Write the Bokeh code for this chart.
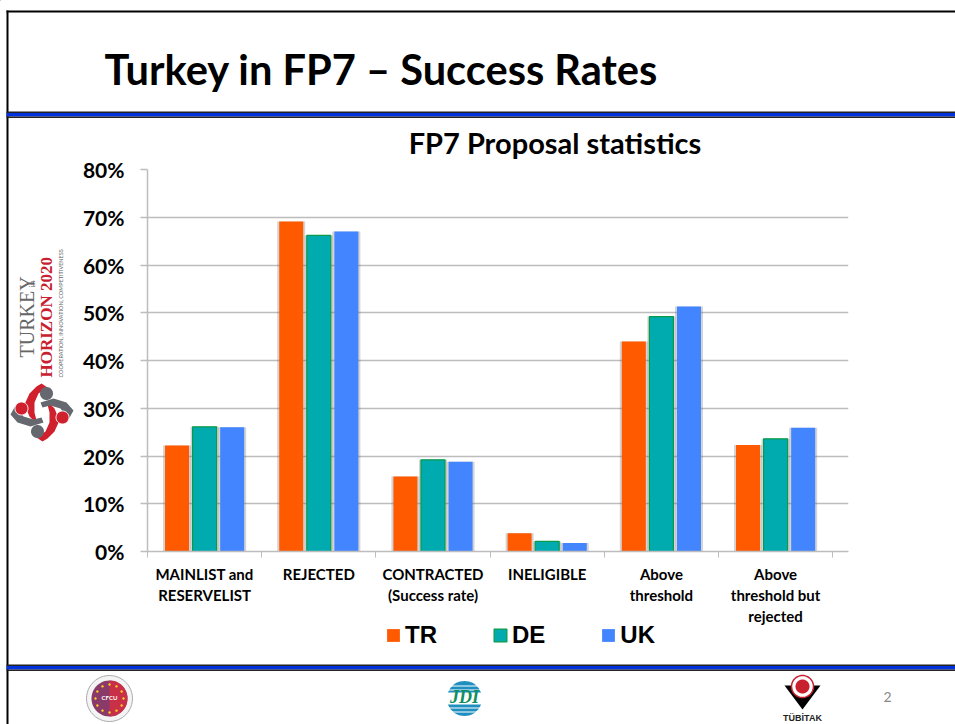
import math
from bokeh.plotting import figure
from bokeh.core.properties import value
from bokeh.models import (Legend, LegendItem, LinearAxis, FixedTicker, ColumnDataSource, Range1d, Grid)
from bokeh.embed import file_html
from bokeh.resources import INLINE

# ---------- data ----------
categories = ["MAINLIST and\nRESERVELIST", "REJECTED", "CONTRACTED\n(Success rate)",
              "INELIGIBLE", "Above\nthreshold", "Above\nthreshold but\nrejected"]
series_names = ["TR", "DE", "UK"]
tr_values = [22.2, 69.1, 15.7, 3.8, 44.0, 22.3]
de_values = [26.1, 66.2, 19.2, 2.1, 49.2, 23.6]
uk_values = [26.0, 67.0, 18.8, 1.8, 51.3, 25.9]
y_ticks = [0, 10, 20, 30, 40, 50, 60, 70, 80]
y_labels = ["0%", "10%", "20%", "30%", "40%", "50%", "60%", "70%", "80%"]

TITLE = "Turkey in FP7 – Success Rates"
CHART_TITLE = "FP7 Proposal statistics"

# ---------- layout ----------
W, H = 955, 724
PX_PER_CAT = 114.2
FL, FR, FT, FB = 147, 848, 169, 551
GRID = "#bdbdbd"
FONT = "Lato"
colors = ["#ff5a00", "#00abb0", "#4285ff"]
lines = [None, "#0a9a4a", None]
SHIFT = 0.42

# ---------- background slide: frame fills the canvas, units are pixels ----------
bg = figure(width=W, height=H, output_backend="svg", toolbar_location=None,
            x_range=Range1d(0, W), y_range=Range1d(H, 0), min_border=0,
            x_axis_type=None, y_axis_type=None)
bg.outline_line_color = None
bg.grid.visible = False

def box(l, t, r, b, color):
    bg.quad(left=[l], right=[r], top=[t], bottom=[b], fill_color=color, line_color=None)
def poly(xs, ys, color, line=None, lw=1):
    bg.patch(x=list(xs), y=list(ys), fill_color=color, line_color=line, line_width=lw)
def circle(cx, cy, r, color, line=None, lw=1):
    a = [2 * math.pi * i / 48 for i in range(48)]
    poly([cx + r * math.cos(t) for t in a], [cy + r * math.sin(t) for t in a], color, line, lw)
def text(x, y, s, size, color="black", font=FONT, style="normal", angle=0, align="left"):
    if angle:
        x -= SHIFT * size
    else:
        y -= SHIFT * size
    bg.text(x=[x], y=[y], text=[s], text_font_size=f"{size}px", text_color=color,
            text_font=value(font), text_font_style=style, angle=angle, text_align=align,
            text_baseline="alphabetic")

box(6, 10, W, 12, "black")
box(6, 10, 8, H, "black")
for y in (111, 664):
    box(6, y, W, y + 1.5, "#222222")
    box(6, y + 1.5, W, y + 5, "#0033dd")
    box(6, y + 5, W, y + 6.5, "#222222")

text(104, 86, TITLE, 41.6, style="bold")
text(554.5, 154, CHART_TITLE, 29, style="bold", align="center")

# left logo
text(35, 357, "TURKEY", 20, color="#666666", font="Liberation Serif", angle=math.pi / 2)
text(35, 287, "in", 9, color="#666666", font="Liberation Serif", angle=math.pi / 2)
text(53, 377, "HORIZON 2020", 17, color="#c8202f", font="Liberation Serif", style="bold", angle=math.pi / 2)
text(63, 377, "COOPERATION, INNOVATION, COMPETITIVENESS", 5.5, color="#666666", angle=math.pi / 2)
CX, CY = 41.5, 412
red_x = [41, 47, 38, 34, 34, 37, 29, 24, 29, 36]
red_y = [383, 387, 393, 402, 412, 424, 416, 404, 393, 386]
gray_x = [40, 53, 66, 73, 68, 60, 50, 42]
gray_y = [402, 398, 402, 410, 419, 408, 405, 407]
for xs, ys, col in ((red_x, red_y, "#d0202e"), (gray_x, gray_y, "#666870")):
    poly(xs, ys, col)
    poly([2 * CX - v for v in xs], [2 * CY - v for v in ys], col)
circle(46, 393, 6.5, "#666870")
circle(37, 431, 6.5, "#666870")
circle(21, 408, 6.5, "#d0202e", "white", 1)
circle(62, 417, 6.5, "#d0202e", "white", 1)

# CFCU logo
circle(109, 698, 23, "#f4f4f4", "#aaaaaa", 1)
circle(109, 698, 18, "#8a3a68")
poly([109 + 18 * math.cos(t / 24 * math.pi - math.pi / 2) for t in range(25)],
     [698 + 18 * math.sin(t / 24 * math.pi - math.pi / 2) for t in range(25)], "#c83048")
for k in range(12):
    a = k * math.pi / 6
    circle(109 + 14 * math.cos(a), 698 + 14 * math.sin(a), 1.2, "#ffd020")
text(109, 700, "CFCU", 6, color="white", style="bold", align="center")

# JDI logo
circle(464, 698, 17.5, "#1f8fc0")
for y in (685, 689, 707, 711):
    box(445, y, 483, y + 1, "white")
box(445, 692, 483, 704, "white")
text(464, 704, "JDI", 18, color="#109060", font="Liberation Serif", style="bold italic", align="center")

# TUBITAK logo
poly([784, 820, 802], [685, 685, 709], "black")
circle(802, 686, 11, "white", "#c8202f", 1.5)
circle(802, 686, 7, "#c8202f")
text(802, 721, "TÜBİTAK", 9, color="#222222", font="Liberation Sans", style="bold", align="center")
text(887, 702, "2", 14, color="#888888", font="Lato", align="center")

# legend
legend_items = []
for name, c, lc in zip(series_names, colors, lines):
    r = bg.vbar(x=[-100], top=[-100], bottom=[-101], width=1, fill_color=c, line_color=lc, line_width=1.2 if lc else 0)
    legend_items.append(LegendItem(label=name, renderers=[r]))
leg = Legend(items=legend_items, orientation="horizontal", location=(385, H - 649), border_line_color=None,
             background_fill_alpha=0, padding=0, margin=0, spacing=55, label_standoff=4,
             glyph_width=16, glyph_height=16, label_text_font="Liberation Sans",
             label_text_font_style="bold", label_text_font_size="24px", label_text_color="black",
             label_height=24)
bg.add_layout(leg, "center")

# ---------- chart on top ----------
p = figure(width=W, height=H, output_backend="svg", toolbar_location=None,
           x_range=Range1d(0, (FR - FL) / PX_PER_CAT), y_range=Range1d(0, 80),
           min_border_left=FL, min_border_right=W - FR, min_border_top=FT, min_border_bottom=H - FB,
           x_axis_type=None, y_axis_type=None, margin=(-H, 0, 0, 0))
p.outline_line_color = None
p.background_fill_alpha = 0
p.border_fill_alpha = 0

yax = LinearAxis(ticker=FixedTicker(ticks=y_ticks),
                 major_label_overrides={t: l for t, l in zip(y_ticks, y_labels)})
yax.axis_line_color = GRID
yax.axis_line_width = 1.5
yax.major_tick_line_color = GRID
yax.major_tick_line_width = 1.5
yax.major_tick_out = 7
yax.major_tick_in = 0
yax.minor_tick_line_color = None
yax.major_label_text_font = FONT
yax.major_label_text_font_style = "bold"
yax.major_label_text_font_size = "21px"
yax.major_label_text_color = "black"
yax.major_label_standoff = 16
p.add_layout(yax, "left")

n = len(categories)
xax = LinearAxis(ticker=FixedTicker(ticks=[i + 0.5 for i in range(n)], minor_ticks=list(range(n + 1))),
                 major_label_overrides={i + 0.5: c for i, c in enumerate(categories)})
xax.axis_line_color = GRID
xax.axis_line_width = 1.5
xax.major_tick_line_color = None
xax.major_tick_out = 0
xax.minor_tick_line_color = GRID
xax.minor_tick_out = 6
xax.minor_tick_in = 0
xax.major_label_text_font = FONT
xax.major_label_text_font_style = "bold"
xax.major_label_text_font_size = "15px"
xax.major_label_text_color = "black"
xax.major_label_standoff = 7
xax.major_label_text_line_height = 1.18
p.add_layout(xax, "below")
p.add_layout(Grid(dimension=1, ticker=FixedTicker(ticks=y_ticks), grid_line_color=GRID, grid_line_width=1.5))

offs = [-0.2415, 0.0, 0.2415]
bw = 24 / PX_PER_CAT
for name, vals, off, c, lc in zip(series_names, [tr_values, de_values, uk_values], offs, colors, lines):
    xs = [i + 0.5 + off for i in range(n)]
    src = ColumnDataSource(dict(x=xs, top=vals))
    p.vbar(x="x", top="top", bottom=0, width=bw + 4 / PX_PER_CAT, source=src,
           fill_color="#666666", fill_alpha=0.28, line_color=None)
    p.vbar(x="x", top="top", bottom=0, width=bw, source=src, fill_color=c,
           line_color=lc, line_width=1.2 if lc else 0)

open("out.html", "w").write(file_html((bg, p), INLINE))
